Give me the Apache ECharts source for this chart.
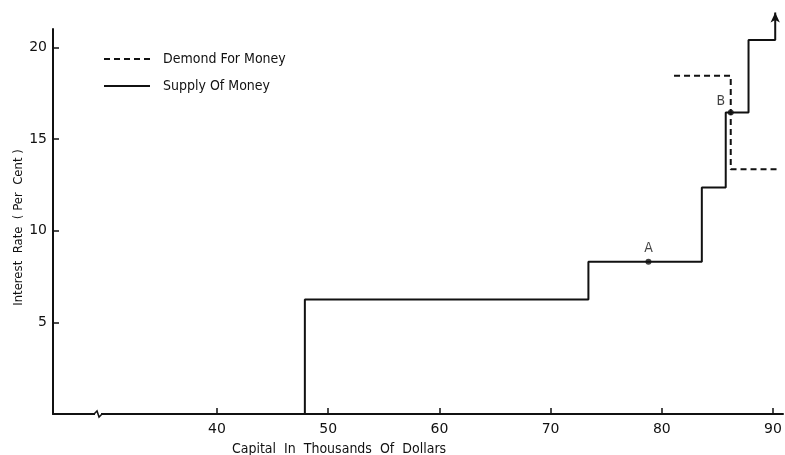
<!DOCTYPE html>
<html>
<head>
<meta charset="utf-8">
<script src="https://cdn.jsdelivr.net/npm/echarts@6/dist/echarts.min.js"></script>
<style>
  html, body { margin: 0; padding: 0; background: #fff; }
  #main { width: 785px; height: 455px; }
</style>
</head>
<body>
<div id="main"></div>
<script>
// supply of money (step curve)
var supplyX = [25.25, 47.9, 47.9, 73.4, 73.4, 83.6, 83.6, 85.75, 85.75, 87.8, 87.8, 90.2, 90.2];
var supplyY = [0, 0, 6.25, 6.25, 8.3, 8.3, 12.35, 12.35, 16.45, 16.45, 20.4, 20.4, 21.9];
// demand for money (dashed)
var demandX = [81.1, 86.2, 86.2, 90.4];
var demandY = [18.45, 18.45, 13.35, 13.35];
// labelled points
var pointNames = ["A", "B"];
var pointX = [78.8, 86.2];
var pointY = [8.3, 16.45];
var xTicks = [40, 50, 60, 70, 80, 90];
var yTicks = [5, 10, 15, 20];

var font = "DejaVu Sans Condensed";
var myChart = echarts.init(document.getElementById("main"));

var supplyData = supplyX.map(function (x, i) {
  var item = { value: [x, supplyY[i]] };
  if (i == supplyX.length - 1) {
    item.symbol = "arrow";
    item.symbolSize = [7, 10];
  }
  return item;
});
var demandData = demandX.map(function (x, i) {
  return [x, demandY[i]];
});
var pointData = pointX.map(function (x, i) {
  return { name: pointNames[i], value: [x, pointY[i]] };
});

var option = {
  animation: false,
  grid: { left: 53, right: 2, top: 29, bottom: 41, containLabel: false, outerBoundsMode: "none" },
  legend: {
    data: ["Demond For Money", "Supply Of Money"],
    orient: "vertical",
    left: 103,
    top: 52,
    padding: 0,
    itemWidth: 46,
    itemHeight: 14,
    itemGap: 13,
    itemStyle: { color: "transparent", borderWidth: 0 },
    textStyle: { fontFamily: font, fontSize: 14, color: "#111", padding: [0, 0, 0, 8] },
  },
  xAxis: {
    type: "value",
    min: 25.25,
    max: 90.9,
    splitLine: { show: false },
    axisLine: { onZero: false, lineStyle: { color: "#111", width: 2 } },
    axisTick: { inside: true, length: 6, customValues: xTicks, lineStyle: { color: "#111", width: 1.5 } },
    axisLabel: { customValues: xTicks, color: "#111", fontFamily: "DejaVu Sans", fontSize: 14, margin: 8 },
    name: "Capital  In  Thousands  Of  Dollars",
    nameLocation: "middle",
    nameGap: 28,
    nameMoveOverlap: false,
    nameTextStyle: { color: "#111", fontFamily: font, fontSize: 14, padding: [0, 158, 0, 0] },
  },
  yAxis: {
    type: "value",
    min: 0,
    max: 21,
    splitLine: { show: false },
    axisLine: { show: true, lineStyle: { color: "#111", width: 2 } },
    axisTick: { show: true, inside: true, length: 6, customValues: yTicks, lineStyle: { color: "#111", width: 1.5 } },
    axisLabel: { customValues: yTicks, color: "#111", fontFamily: "DejaVu Sans", fontSize: 14, margin: 6 },
    name: "Interest  Rate  ( Per  Cent )",
    nameLocation: "middle",
    nameGap: 28,
    nameMoveOverlap: false,
    nameTextStyle: { color: "#111", fontFamily: font, fontSize: 13, padding: [0, 12, 0, 0] },
  },
  series: [
    {
      name: "Demond For Money",
      type: "line",
      data: demandData,
      symbol: "none",
      lineStyle: { color: "#111", width: 2, type: [6, 4] },
      itemStyle: { color: "#111" },
    },
    {
      name: "Supply Of Money",
      type: "line",
      data: supplyData,
      symbol: "none",
      clip: false,
      lineStyle: { color: "#111", width: 2 },
      itemStyle: { color: "#111" },
    },
    {
      type: "scatter",
      data: pointData,
      symbolSize: 6,
      itemStyle: { color: "#111" },
      label: {
        show: true,
        formatter: "{b}",
        color: "#111",
        fontFamily: font,
        fontSize: 14,
        position: "top",
        distance: 3,
      },
      labelLayout: function (params) {
        if (params.text == "B") {
          return { dx: -10, dy: 2 };
        }
      },
    },
  ],
};
myChart.setOption(option);

// little break mark on the x axis
var p = myChart.convertToPixel({ xAxisIndex: 0, yAxisIndex: 0 }, [29.3, 0]);
myChart.setOption({
  graphic: [
    { type: "rect", shape: { x: p[0] - 3, y: p[1] - 3, width: 6, height: 6 }, style: { fill: "#fff" }, z: 100 },
    {
      type: "polyline",
      shape: { points: [[p[0] - 4, p[1]], [p[0] - 1, p[1] - 3], [p[0] + 1, p[1] + 3], [p[0] + 4, p[1]]] },
      style: { stroke: "#111", lineWidth: 1.5, fill: null },
      z: 101,
    },
  ],
});
</script>
</body>
</html>
